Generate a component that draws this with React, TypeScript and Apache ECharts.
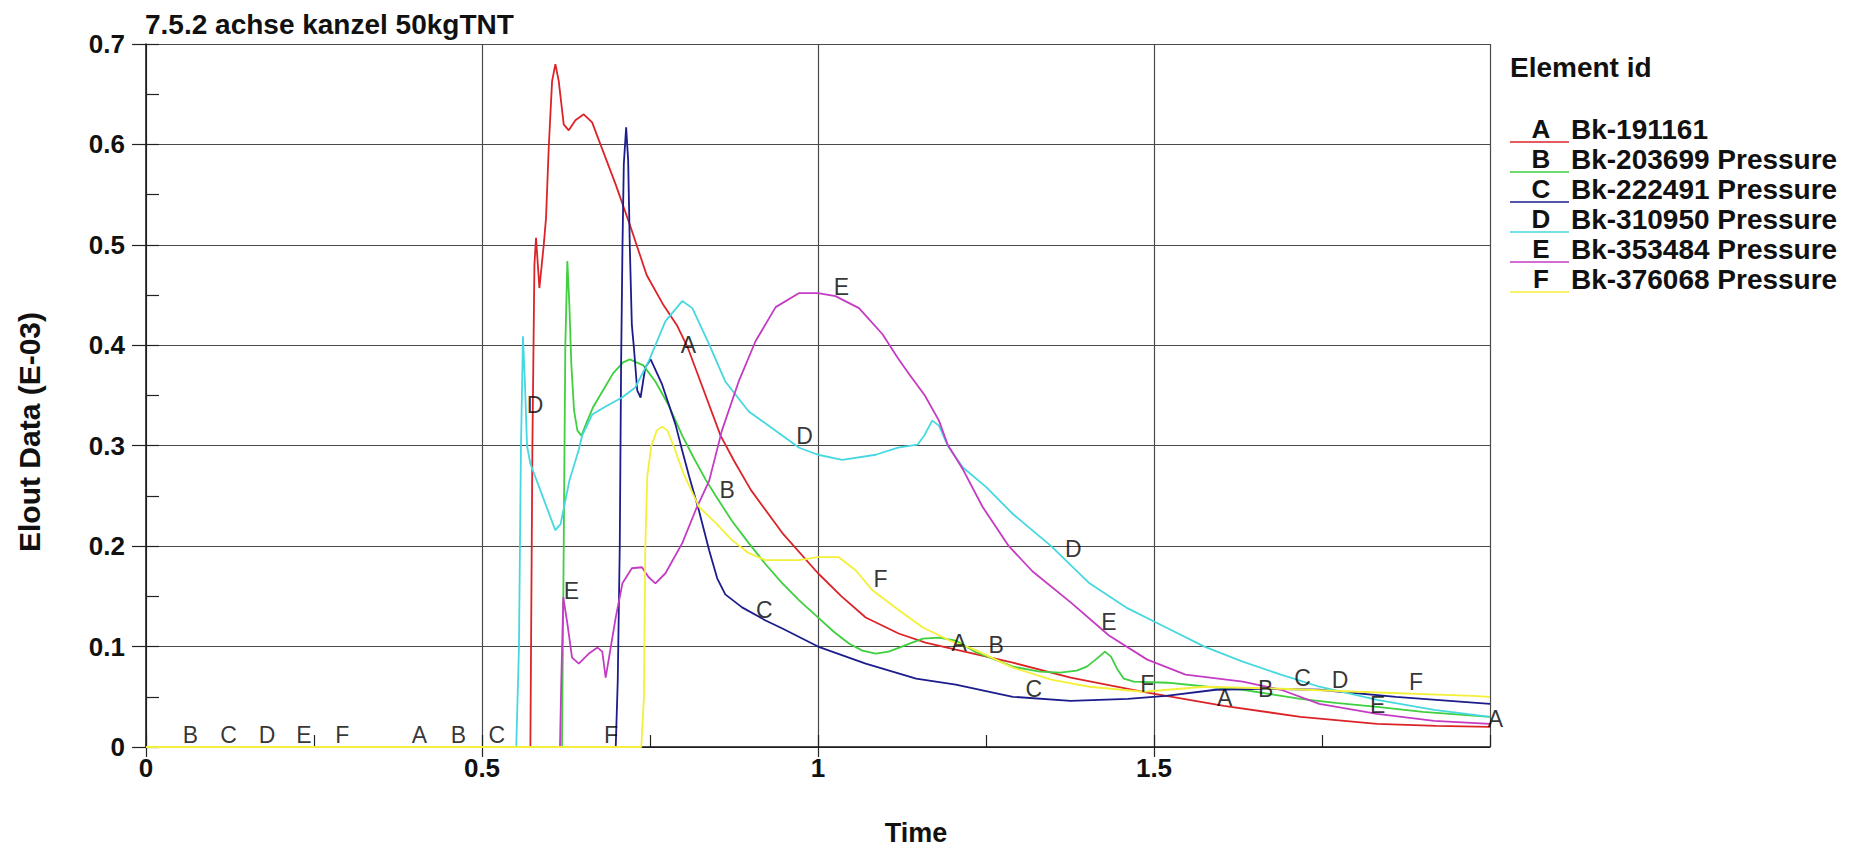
import { useEffect, useRef } from "react";
import * as echarts from "echarts";

const titleText = "7.5.2 achse kanzel 50kgTNT";
const xAxisName = "Time";
const yAxisName = "Elout Data (E-03)";
const legendTitle = "Element id";

const seriesLetters = ["A", "B", "C", "D", "E", "F"];
const seriesNames = [
  "Bk-191161",
  "Bk-203699 Pressure",
  "Bk-222491 Pressure",
  "Bk-310950 Pressure",
  "Bk-353484 Pressure",
  "Bk-376068 Pressure",
];
const seriesColors = ["#dc2328", "#3fcf3f", "#1c1c8c", "#46d8e0", "#c43cc4", "#f4f03a"];

// A  Bk-191161
const aX = [0, 0.572, 0.575, 0.578, 0.5804, 0.5854, 0.5919, 0.5953, 0.5993, 0.6043, 0.6092, 0.6142, 0.6216, 0.6291, 0.639, 0.6514, 0.6639, 0.674, 0.699, 0.72, 0.745, 0.77, 0.79, 0.806, 0.83, 0.855, 0.875, 0.9, 0.947, 1.0, 1.035, 1.071, 1.12, 1.16, 1.205, 1.29, 1.376, 1.484, 1.604, 1.718, 1.832, 1.92, 2.0];
const aY = [0, 0, 0.3, 0.48, 0.507, 0.457, 0.5, 0.527, 0.597, 0.663, 0.68, 0.663, 0.62, 0.614, 0.624, 0.63, 0.622, 0.604, 0.56, 0.52, 0.47, 0.44, 0.42, 0.398, 0.355, 0.31, 0.285, 0.256, 0.213, 0.173, 0.15, 0.129, 0.113, 0.104, 0.097, 0.084, 0.069, 0.055, 0.041, 0.03, 0.023, 0.021, 0.02];

// B  Bk-203699
const bX = [0, 0.619, 0.621, 0.624, 0.627, 0.63, 0.633, 0.637, 0.642, 0.648, 0.655, 0.665, 0.68, 0.695, 0.71, 0.72, 0.74, 0.758, 0.778, 0.798, 0.815, 0.833, 0.848, 0.872, 0.897, 0.922, 0.947, 0.972, 1.0, 1.023, 1.046, 1.066, 1.086, 1.105, 1.121, 1.14, 1.156, 1.18, 1.205, 1.233, 1.26, 1.29, 1.33, 1.36, 1.385, 1.4, 1.415, 1.427, 1.436, 1.445, 1.455, 1.47, 1.52, 1.58, 1.632, 1.68, 1.718, 1.77, 1.832, 1.9, 1.96, 2.0];
const bY = [0, 0, 0.15, 0.4, 0.484, 0.44, 0.38, 0.335, 0.315, 0.31, 0.322, 0.338, 0.355, 0.372, 0.383, 0.386, 0.38, 0.364, 0.34, 0.31, 0.288, 0.266, 0.25, 0.225, 0.203, 0.182, 0.163, 0.146, 0.129, 0.115, 0.103, 0.096, 0.093, 0.095, 0.099, 0.104, 0.108, 0.109, 0.106, 0.095, 0.088, 0.08, 0.075, 0.074, 0.076, 0.08, 0.088, 0.095, 0.09, 0.078, 0.068, 0.065, 0.064, 0.06, 0.057, 0.052, 0.048, 0.044, 0.04, 0.035, 0.032, 0.03];

// C  Bk-222491
const cX = [0, 0.699, 0.702, 0.705, 0.707, 0.709, 0.711, 0.7145, 0.7175, 0.72, 0.723, 0.726, 0.731, 0.736, 0.743, 0.751, 0.768, 0.788, 0.798, 0.808, 0.823, 0.838, 0.85, 0.862, 0.887, 0.922, 0.947, 1.0, 1.071, 1.146, 1.205, 1.29, 1.376, 1.461, 1.518, 1.592, 1.661, 1.746, 1.86, 2.0];
const cY = [0, 0, 0.066, 0.2, 0.381, 0.497, 0.58, 0.617, 0.584, 0.497, 0.42, 0.398, 0.355, 0.348, 0.378, 0.386, 0.361, 0.321, 0.295, 0.27, 0.235, 0.196, 0.168, 0.152, 0.139, 0.126, 0.118, 0.1, 0.083, 0.068, 0.062, 0.05, 0.046, 0.048, 0.051, 0.057, 0.058, 0.057, 0.05, 0.043];

// D  Bk-310950
const dX = [0, 0.551, 0.555, 0.558, 0.561, 0.564, 0.567, 0.572, 0.609, 0.617, 0.63, 0.644, 0.649, 0.664, 0.684, 0.7085, 0.728, 0.748, 0.773, 0.798, 0.813, 0.838, 0.862, 0.897, 0.937, 0.972, 1.0, 1.036, 1.086, 1.119, 1.148, 1.158, 1.17, 1.18, 1.193, 1.216, 1.25, 1.29, 1.347, 1.404, 1.461, 1.518, 1.575, 1.632, 1.689, 1.746, 1.832, 1.917, 2.0];
const dY = [0, 0, 0.1, 0.3, 0.409, 0.36, 0.3, 0.282, 0.216, 0.222, 0.265, 0.296, 0.31, 0.331, 0.339, 0.348, 0.358, 0.384, 0.424, 0.444, 0.437, 0.401, 0.364, 0.334, 0.315, 0.298, 0.291, 0.286, 0.291, 0.298, 0.301, 0.31, 0.325, 0.32, 0.3, 0.278, 0.259, 0.232, 0.2, 0.163, 0.138, 0.119, 0.1, 0.085, 0.072, 0.06, 0.047, 0.037, 0.03];

// E  Bk-353484
const eX = [0, 0.616, 0.618, 0.621, 0.627, 0.634, 0.644, 0.659, 0.672, 0.679, 0.684, 0.689, 0.699, 0.709, 0.723, 0.738, 0.748, 0.758, 0.773, 0.798, 0.818, 0.838, 0.857, 0.882, 0.907, 0.937, 0.972, 1.0, 1.026, 1.061, 1.096, 1.119, 1.136, 1.159, 1.18, 1.193, 1.216, 1.245, 1.284, 1.319, 1.376, 1.433, 1.49, 1.547, 1.632, 1.689, 1.746, 1.832, 1.917, 2.0];
const eY = [0, 0, 0.066, 0.149, 0.123, 0.089, 0.083, 0.093, 0.099, 0.095, 0.069, 0.089, 0.129, 0.163, 0.178, 0.179, 0.169, 0.163, 0.173, 0.203, 0.236, 0.265, 0.315, 0.364, 0.404, 0.438, 0.452, 0.452, 0.449, 0.437, 0.411, 0.387, 0.371, 0.35, 0.325, 0.301, 0.276, 0.239, 0.2, 0.175, 0.144, 0.111, 0.087, 0.072, 0.065, 0.057, 0.043, 0.033, 0.026, 0.023];

// F  Bk-376068
const fX = [0, 0.737, 0.741, 0.743, 0.746, 0.752, 0.76, 0.768, 0.776, 0.785, 0.8, 0.823, 0.848, 0.872, 0.897, 0.922, 0.972, 1.0, 1.031, 1.056, 1.081, 1.121, 1.156, 1.196, 1.233, 1.29, 1.347, 1.404, 1.484, 1.575, 1.689, 1.803, 1.974, 2.0];
const fY = [0, 0, 0.05, 0.2, 0.27, 0.3, 0.315, 0.319, 0.315, 0.3, 0.272, 0.239, 0.223, 0.206, 0.193, 0.186, 0.186, 0.189, 0.189, 0.176, 0.156, 0.136, 0.119, 0.106, 0.097, 0.079, 0.067, 0.06, 0.055, 0.06, 0.058, 0.055, 0.051, 0.05];

const curveXs = [aX, bX, cX, dX, eX, fX];
const curveYs = [aY, bY, cY, dY, eY, fY];

// letters written along the curves
const labelText = ["B", "C", "D", "E", "F", "A", "B", "C", "F", "D", "A", "E", "D", "B", "E", "C", "F", "A", "B", "C", "F", "D", "E", "A", "B", "C", "D", "E", "F", "A"];
const labelX = [0.066, 0.123, 0.18, 0.235, 0.292, 0.407, 0.465, 0.522, 0.692, 0.579, 0.807, 1.035, 0.98, 0.865, 0.633, 0.92, 1.093, 1.21, 1.265, 1.321, 1.49, 1.38, 1.433, 1.605, 1.666, 1.721, 1.777, 1.833, 1.89, 2.008];
const labelY = [0.012, 0.012, 0.012, 0.012, 0.012, 0.012, 0.012, 0.012, 0.012, 0.341, 0.4, 0.458, 0.31, 0.256, 0.155, 0.136, 0.167, 0.104, 0.102, 0.058, 0.063, 0.197, 0.124, 0.049, 0.058, 0.069, 0.067, 0.042, 0.065, 0.028];

const FONT = "'Liberation Sans', Arial, sans-serif";

export default function App() {
  const ref = useRef<HTMLDivElement>(null);
  useEffect(() => {
    if (!ref.current) return;
    const chart = echarts.init(ref.current, undefined, { renderer: "svg" });

    const lineSeries = curveXs.map((xs, i) => ({
      type: "line",
      name: seriesNames[i],
      xAxisIndex: 0,
      yAxisIndex: 0,
      data: xs.map((x, j) => [x, curveYs[i][j]]),
      showSymbol: false,
      symbol: "none",
      smooth: false,
      clip: false,
      lineStyle: { color: seriesColors[i], width: 1.8 },
      itemStyle: { color: seriesColors[i] },
      z: 3,
    }));

    const labelSeries = {
      type: "scatter",
      xAxisIndex: 1,
      yAxisIndex: 1,
      symbolSize: 2,
      clip: false,
      itemStyle: { color: "rgba(0,0,0,0)" },
      data: labelText.map((t, i) => [labelX[i], labelY[i], t]),
      label: {
        show: true,
        position: "inside",
        formatter: (p: any) => p.value[2],
        fontFamily: FONT,
        fontSize: 23,
        color: "#000",
      },
      z: 5,
    };

    const rowY = (i: number) => 129 + i * 30;
    const txt = (text: string, x: number, y: number, size: number, align: string, bold = true, extra: any = {}) => ({
      type: "text",
      x,
      y,
      ...extra,
      style: {
        text,
        fontFamily: FONT,
        fontSize: size,
        fontWeight: bold ? "bold" : "normal",
        fill: "#111",
        align,
        verticalAlign: "middle",
      },
    });

    const legendGraphics: any[] = [txt(legendTitle, 1510, 67, 28, "left")];
    seriesLetters.forEach((letter, i) => {
      legendGraphics.push({
        type: "line",
        shape: { x1: 1510, y1: rowY(i) + 13, x2: 1569, y2: rowY(i) + 13 },
        style: { stroke: seriesColors[i], lineWidth: 1.5 },
      });
      legendGraphics.push(txt(letter, 1541, rowY(i), 26, "center"));
      legendGraphics.push(txt(seriesNames[i], 1571, rowY(i), 28, "left"));
    });

    const gridRect = { left: 146, top: 44, width: 1344, height: 703 };

    chart.setOption({
      animation: false,
      backgroundColor: "#ffffff",
      grid: [
        { ...gridRect, containLabel: false },
        { ...gridRect, containLabel: false },
      ],
      xAxis: [
        {
          type: "value",
          gridIndex: 0,
          min: 0,
          max: 2,
          interval: 0.5,
          axisLine: { show: true, lineStyle: { color: "#111", width: 1.5 } },
          axisTick: { show: true, inside: false, length: 10, lineStyle: { color: "#222", width: 1.2 } },
          axisLabel: {
            show: true,
            showMaxLabel: false,
            margin: 8,
            fontFamily: FONT,
            fontWeight: "bold",
            fontSize: 26,
            color: "#111",
          },
          splitLine: { show: true, lineStyle: { color: "#4a4a4a", width: 1.2 } },
        },
        {
          type: "value",
          gridIndex: 1,
          min: 0,
          max: 2,
          interval: 0.25,
          axisLine: { show: false },
          axisTick: { show: true, inside: true, length: 12, lineStyle: { color: "#222", width: 1.2 } },
          axisLabel: { show: false },
          splitLine: { show: false },
        },
      ],
      yAxis: [
        {
          type: "value",
          gridIndex: 0,
          min: 0,
          max: 0.7,
          interval: 0.1,
          axisLine: { show: true, lineStyle: { color: "#111", width: 1.5 } },
          axisTick: { show: true, inside: false, length: 14, lineStyle: { color: "#222", width: 1.2 } },
          axisLabel: {
            show: true,
            margin: 21,
            fontFamily: FONT,
            fontWeight: "bold",
            fontSize: 26,
            color: "#111",
          },
          splitLine: { show: true, lineStyle: { color: "#4a4a4a", width: 1.2 } },
        },
        {
          type: "value",
          gridIndex: 1,
          min: 0,
          max: 0.7,
          interval: 0.05,
          axisLine: { show: false },
          axisTick: { show: true, inside: true, length: 13, lineStyle: { color: "#222", width: 1.2 } },
          axisLabel: { show: false },
          splitLine: { show: false },
        },
      ],
      series: [...lineSeries, labelSeries],
      graphic: [
        txt(titleText, 145, 24, 28, "left"),
        txt(xAxisName, 916, 833, 27, "center"),
        txt(yAxisName, 29, 432, 30, "center", true, { rotation: Math.PI / 2 }),
        ...legendGraphics,
      ],
    });

    return () => chart.dispose();
  }, []);

  return (
    <div
      ref={ref}
      style={{ position: "absolute", left: 0, top: 0, width: 1865, height: 850, background: "#fff" }}
    />
  );
}
